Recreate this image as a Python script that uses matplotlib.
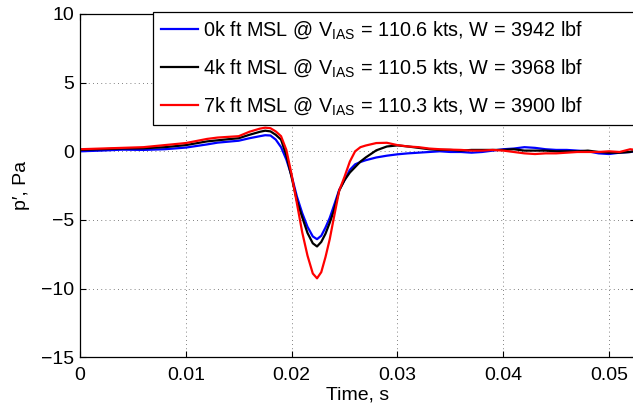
import matplotlib
matplotlib.use('Agg')
import matplotlib.pyplot as plt

plt.rcParams['font.family'] = ['Liberation Sans', 'DejaVu Sans']
plt.rcParams['mathtext.fontset'] = 'custom'
plt.rcParams['mathtext.rm'] = 'Liberation Sans'
plt.rcParams['mathtext.it'] = 'Liberation Sans:italic'

# time, ms
t_ms = [0, 2, 4, 6, 8, 10, 12, 13, 14, 15, 16, 17, 17.5, 18, 18.5, 19, 19.5,
        20, 20.5, 21, 21.5, 22, 22.4, 22.8, 23.2, 23.6, 24, 24.5, 25, 25.5,
        26, 26.5, 27, 28, 29, 30, 31, 32, 33, 34, 35, 36, 37, 38, 39, 40,
        41, 42, 43, 44, 45, 46, 47, 48, 49, 50, 51, 52, 52.5]

# pressure perturbation, Pa
p_0k = [0.0, 0.05, 0.12, 0.1, 0.15, 0.27, 0.5, 0.63, 0.7, 0.77, 0.95, 1.1,
        1.17, 1.15, 0.85, 0.3, -0.6,
        -1.8, -3.3, -4.5, -5.5, -6.2, -6.4, -6.15, -5.55, -4.85, -3.95,
        -2.8, -2.1, -1.35,
        -0.95, -0.78, -0.65, -0.45, -0.32, -0.22, -0.15, -0.1, -0.05, 0.0,
        -0.05, -0.05, -0.1, -0.05, 0.05, 0.15,
        0.2, 0.3, 0.25, 0.15, 0.1, 0.1, 0.05, 0.0, -0.15, -0.2, -0.1, -0.05,
        0.0]
p_4k = [0.1, 0.15, 0.2, 0.22, 0.3, 0.45, 0.72, 0.8, 0.88, 0.95, 1.2, 1.42,
        1.5, 1.45, 1.2, 0.85, -0.3,
        -1.9, -3.6, -4.8, -5.95, -6.7, -6.93, -6.6, -6.0, -5.2, -4.3,
        -2.85, -2.1, -1.55,
        -1.15, -0.75, -0.45, 0.07, 0.35, 0.43, 0.35, 0.25, 0.15, 0.1,
        0.1, 0.05, 0.1, 0.1, 0.1, 0.1,
        0.15, 0.05, 0.05, 0.05, 0.0, 0.0, 0.0, 0.05, -0.05, -0.1, -0.1,
        -0.05, 0.05]
p_7k = [0.15, 0.2, 0.25, 0.3, 0.45, 0.6, 0.9, 1.0, 1.05, 1.1, 1.42, 1.65,
        1.72, 1.68, 1.45, 1.1, 0.1,
        -1.7, -3.8, -5.9, -7.6, -8.9, -9.25, -8.8, -7.7, -6.4, -4.8,
        -2.85, -1.85, -0.75,
        0.0, 0.3, 0.42, 0.6, 0.62, 0.45, 0.35, 0.3, 0.2, 0.15,
        0.12, 0.1, 0.05, 0.05, 0.1, 0.05,
        -0.05, -0.15, -0.2, -0.15, -0.15, -0.1, -0.05, -0.05, -0.05, 0.0,
        -0.05, 0.15, 0.1]

labels = [r'0k ft MSL @ V$_{\mathrm{IAS}}$ = 110.6 kts, W = 3942 lbf',
          r'4k ft MSL @ V$_{\mathrm{IAS}}$ = 110.5 kts, W = 3968 lbf',
          r'7k ft MSL @ V$_{\mathrm{IAS}}$ = 110.3 kts, W = 3900 lbf']
colors = ['#0000ff', '#000000', '#ff0000']

t = [v / 1000.0 for v in t_ms]

fig = plt.figure(figsize=(6.33, 4.12), dpi=100)
ax = fig.add_axes([0.1264, 0.1328, 0.8776, 0.8333])

for p, c, lab in zip([p_0k, p_4k, p_7k], colors, labels):
    ax.plot(t, p, color=c, linewidth=1.6, label=lab)

ax.set_xlim(0, 0.0525)
ax.set_ylim(-15, 10)
ax.set_xticks([0, 0.01, 0.02, 0.03, 0.04, 0.05])
ax.set_xticklabels(['0', '0.01', '0.02', '0.03', '0.04', '0.05'])
ax.set_yticks([-15, -10, -5, 0, 5, 10])

ax.grid(True, color='0.35', linestyle=(0, (1, 4)), linewidth=0.6)
ax.tick_params(direction='in', length=4.5, width=0.8, top=True, right=True,
               labelsize=14)
ax.tick_params(axis='x', pad=7)
ax.tick_params(axis='y', pad=4)
for s in ax.spines.values():
    s.set_linewidth(0.9)

ax.set_xlabel('Time, s', fontsize=14, labelpad=2)
ax.set_ylabel('p\u2032, Pa', fontsize=14, labelpad=8)

# legend box stretched to the right edge, text left-aligned inside
leg = ax.legend(loc='upper left', bbox_to_anchor=(0.1314, 0.0, 0.88, 1.005),
                mode='expand', borderaxespad=0, fontsize=14.3, fancybox=False,
                framealpha=1, edgecolor='black', handlelength=1.9,
                handletextpad=0.25, labelspacing=0.82, borderpad=0.38)
leg.get_frame().set_linewidth(0.9)

plt.savefig('out.png', dpi=100)
